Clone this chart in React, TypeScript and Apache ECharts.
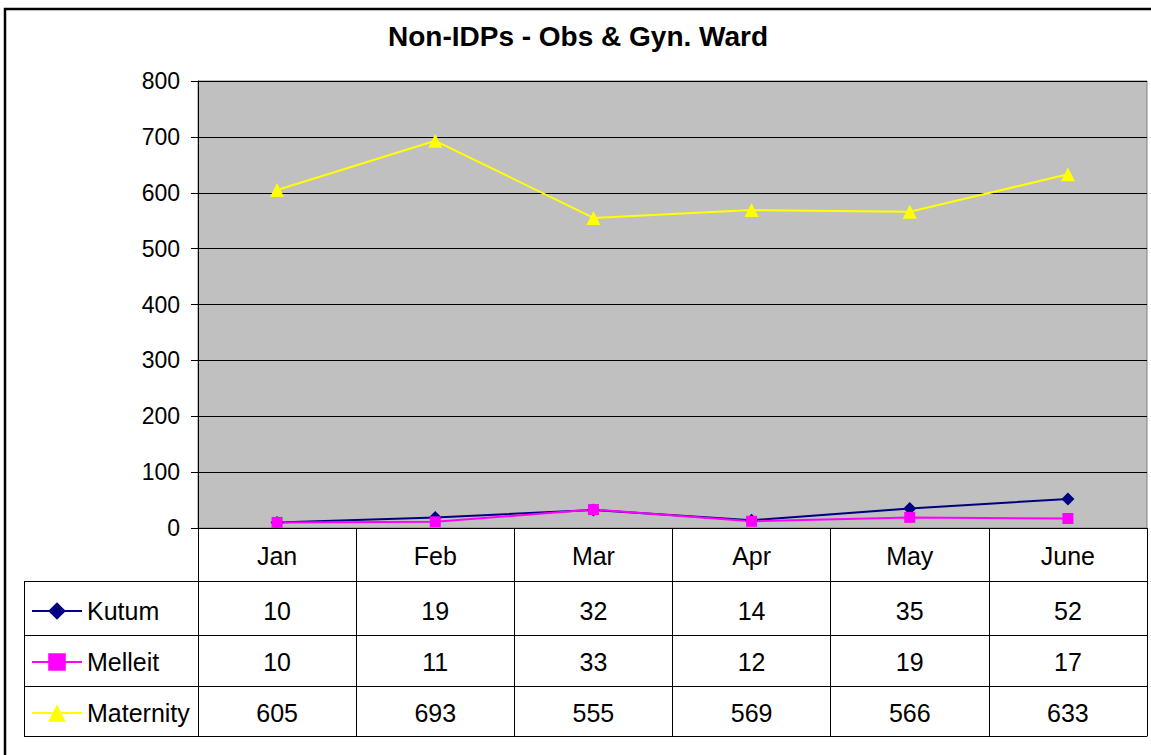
import React, { useEffect, useRef } from "react";
import * as echarts from "echarts";

const categories = ["Jan", "Feb", "Mar", "Apr", "May", "June"];
const kutum = [10, 19, 32, 14, 35, 52];
const melleit = [10, 11, 33, 12, 19, 17];
const maternity = [605, 693, 555, 569, 566, 633];
const seriesNames = ["Kutum", "Melleit", "Maternity"];
const yTicks = { min: 0, max: 800, interval: 100 };

const FONT = "'Liberation Sans', Arial, sans-serif";

export default function App() {
  const ref = useRef<HTMLDivElement>(null);
  useEffect(() => {
    if (!ref.current) return;
    const chart = echarts.init(ref.current, null, { renderer: "svg" });

    const gridLeft = 198;
    const gridTop = 81;
    const gridRight = 1147;
    const gridBottom = 528;

    const tableAxis = (
      data: (string | number)[],
      offset: number,
      tickLen: number,
      margin: number,
      showLabel = true
    ) => ({
      type: "category",
      gridIndex: 0,
      position: "bottom",
      offset,
      data: data.map(String),
      boundaryGap: true,
      axisLine: { show: true, lineStyle: { color: "#000", width: 1 } },
      axisTick: {
        show: tickLen > 0,
        interval: 0,
        length: tickLen,
        lineStyle: { color: "#000", width: 1 },
      },
      axisLabel: {
        show: showLabel,
        interval: 0,
        margin,
        verticalAlign: "middle",
        color: "#000",
        fontSize: 25,
        fontFamily: FONT,
      },
      splitLine: { show: false },
    });

    const rowLines = [581, 635, 686, 736];
    const graphics: any[] = [
      {
        type: "rect",
        shape: { x: 5, y: 9, width: 1300, height: 900 },
        style: { fill: "none", stroke: "#000", lineWidth: 2.5 },
        silent: true,
      },
      ...rowLines.map((y) => ({
        type: "line",
        shape: { x1: 24, y1: y + 0.5, x2: gridLeft, y2: y + 0.5 },
        style: { stroke: "#000", lineWidth: 1 },
        silent: true,
      })),
      {
        type: "line",
        shape: { x1: 24.5, y1: 581, x2: 24.5, y2: 736 },
        style: { stroke: "#000", lineWidth: 1 },
        silent: true,
      },
    ];

    const legendTops = [611, 662, 713];
    const legendTextStyle = {
      color: "#000",
      fontSize: 25,
      fontFamily: FONT,
      lineHeight: 26,
    };

    chart.setOption({
      animation: false,
      backgroundColor: "#fff",
      title: {
        text: "Non-IDPs - Obs & Gyn. Ward",
        left: 578,
        textAlign: "center",
        top: 22,
        padding: 0,
        textStyle: {
          color: "#000",
          fontSize: 28,
          fontWeight: "bold",
          fontFamily: FONT,
        },
      },
      legend: seriesNames.map((name, i) => ({
        data: [name],
        left: 31,
        top: legendTops[i] - 13,
        padding: 0,
        itemWidth: 50,
        itemHeight: 22,
        itemGap: 0,
        textStyle: legendTextStyle,
        selectedMode: false,
      })),
      grid: {
        left: gridLeft,
        top: gridTop,
        width: gridRight - gridLeft,
        height: gridBottom - gridTop,
        show: true,
        backgroundColor: "#C0C0C0",
        borderColor: "#808080",
        borderWidth: 1,
        containLabel: false,
      },
      xAxis: [
        tableAxis(categories, 0, 53, 28),
        tableAxis(kutum, 53, 54, 30),
        tableAxis(melleit, 107, 51, 27),
        tableAxis(maternity, 158, 50, 27),
        tableAxis(categories, 208, 0, 0, false),
      ],
      yAxis: {
        type: "value",
        min: yTicks.min,
        max: yTicks.max,
        interval: yTicks.interval,
        axisLine: { show: true, lineStyle: { color: "#000", width: 1 } },
        axisTick: {
          show: true,
          length: 7,
          lineStyle: { color: "#000", width: 1 },
        },
        axisLabel: {
          margin: 18,
          color: "#000",
          fontSize: 23,
          fontFamily: FONT,
        },
        splitLine: { show: true, lineStyle: { color: "#000", width: 1 } },
      },
      series: [
        {
          name: seriesNames[0],
          type: "line",
          xAxisIndex: 0,
          data: kutum,
          symbol: "diamond",
          symbolSize: 13,
          color: "#000080",
          lineStyle: { color: "#000080", width: 2 },
          itemStyle: { color: "#000080" },
        },
        {
          name: seriesNames[1],
          type: "line",
          xAxisIndex: 0,
          data: melleit,
          symbol: "rect",
          symbolSize: 11,
          color: "#FF00FF",
          lineStyle: { color: "#FF00FF", width: 2 },
          itemStyle: { color: "#FF00FF" },
        },
        {
          name: seriesNames[2],
          type: "line",
          xAxisIndex: 0,
          data: maternity,
          symbol: "triangle",
          symbolSize: 14,
          color: "#FFFF00",
          lineStyle: { color: "#FFFF00", width: 2 },
          itemStyle: { color: "#FFFF00" },
        },
      ],
      graphic: graphics,
    });

    return () => chart.dispose();
  }, []);

  return (
    <div
      ref={ref}
      style={{
        position: "fixed",
        left: 0,
        top: 0,
        width: 1151,
        height: 755,
        background: "#fff",
      }}
    />
  );
}
